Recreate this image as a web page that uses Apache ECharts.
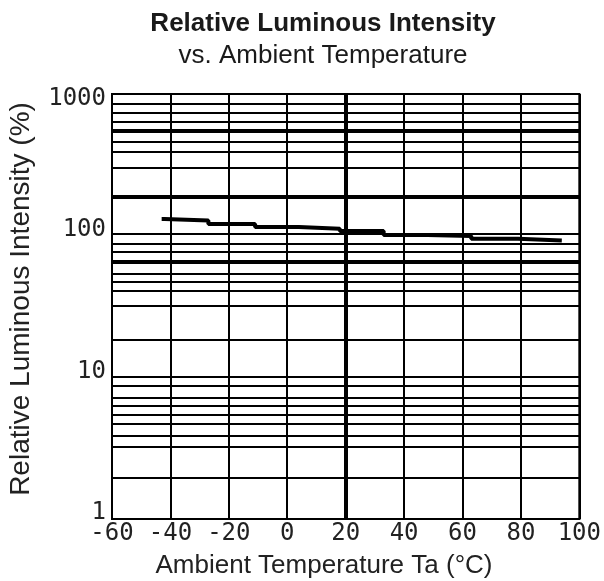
<!DOCTYPE html>
<html>
<head>
<meta charset="utf-8">
<script src="https://cdn.jsdelivr.net/npm/echarts@6/dist/echarts.min.js"></script>
<style>html,body{margin:0;padding:0;background:#fff;}#c{width:604px;height:581px;}</style>
</head>
<body>
<div id="c"></div>
<script>
// Data
const temps = [-43, -42, -27, -11, 4, 18, 33, 48, 63, 79, 94];
const intensity = [131, 128, 121, 115, 112, 108, 101, 99.5, 95, 92.5, 92.5];
const xTickLabels = [-60, -40, -20, 0, 20, 40, 60, 80, 100];
const yTickLabels = [1, 10, 100, 1000];
// horizontal grid lines as drawn in the reference (values on the log scale)
const hGridValues = [860, 738, 634, 548, 458, 390, 304, 187, 103, 88.3, 76.7, 65.5, 54.2, 47.3, 40.9, 31.9, 18.55, 10.1, 8.73, 7.23, 6.31, 5.45, 4.74, 3.85, 3.21, 1.94];
const hGridThick = [548, 187, 65.5];
const vGridThick = [20];

const chart = echarts.init(document.getElementById('c'), null, {renderer: 'canvas'});
const markData = hGridValues.map(v => ({
  yAxis: v,
  lineStyle: {color: '#000', type: 'solid', width: hGridThick.includes(v) ? 4 : 2}
})).concat(vGridThick.map(v => ({
  xAxis: v,
  lineStyle: {color: '#000', type: 'solid', width: 4}
})));

const labelFont = {color: '#222', fontFamily: 'DejaVu Sans Mono', fontSize: 24};

chart.setOption({
  animation: false,
  backgroundColor: '#fff',
  grid: {left: 112, right: 19, top: 94, bottom: 62, show: true, borderColor: '#000', borderWidth: 2, backgroundColor: '#fff'},
  xAxis: {
    type: 'value', min: -60, max: 100, interval: 20,
    axisLine: {show: true, lineStyle: {color: '#000', width: 2}},
    axisTick: {show: false},
    splitLine: {show: true, lineStyle: {color: '#000', width: 2}},
    axisLabel: Object.assign({}, labelFont, {
      margin: 3,
      formatter: v => xTickLabels.includes(v) ? String(v) : ''
    })
  },
  yAxis: {
    type: 'log', logBase: 10, min: 1, max: 1000,
    axisLine: {show: true, lineStyle: {color: '#000', width: 2}},
    axisTick: {show: false},
    splitLine: {show: false},
    minorSplitLine: {show: false},
    axisLabel: Object.assign({}, labelFont, {
      margin: 6,
      formatter: v => {
        const r = Math.round(v);
        if (!yTickLabels.includes(r)) return '';
        return r === 1000 ? '{t|' + r + '}' : '{n|' + r + '}';
      },
      rich: {
        t: Object.assign({}, labelFont, {padding: [10, 0, 0, 0]}),
        n: Object.assign({}, labelFont, {padding: [0, 0, 12, 0]})
      }
    })
  },
  graphic: [
    {type: 'text', x: 323, y: 24,
     style: {text: 'Relative Luminous Intensity', fontFamily: 'Liberation Sans', fontWeight: 'bold', fontSize: 26, fill: '#1a1a1a', align: 'center', verticalAlign: 'middle'}},
    {type: 'text', x: 323, y: 56,
     style: {text: 'vs. Ambient Temperature', fontFamily: 'Liberation Sans', fontSize: 26, fill: '#1a1a1a', align: 'center', verticalAlign: 'middle'}},
    {type: 'text', x: 21, y: 299, rotation: Math.PI / 2,
     style: {text: 'Relative Luminous Intensity (%)', fontFamily: 'Liberation Sans', fontSize: 28, fill: '#222', align: 'center', verticalAlign: 'middle'}},
    {type: 'text', x: 324, y: 566,
     style: {text: 'Ambient Temperature Ta (°C)', fontFamily: 'Liberation Sans', fontSize: 26, fill: '#222', align: 'center', verticalAlign: 'middle'}}
  ],
  series: [{
    type: 'line',
    step: 'end',
    data: temps.map((t, i) => [t, intensity[i]]),
    showSymbol: false,
    lineStyle: {color: '#000', width: 4},
    z: 5,
    markLine: {silent: true, symbol: 'none', label: {show: false}, data: markData, z: 1}
  }]
});
</script>
</body>
</html>
